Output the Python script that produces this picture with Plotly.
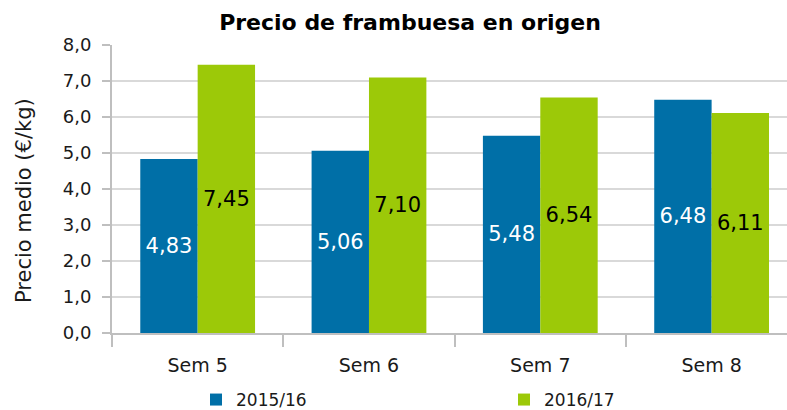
import plotly.graph_objects as go

categories = ["Sem 5", "Sem 6", "Sem 7", "Sem 8"]
series_2015 = [4.83, 5.06, 5.48, 6.48]
series_2016 = [7.45, 7.10, 6.54, 6.11]
y_ticks = [0, 1, 2, 3, 4, 5, 6, 7, 8]

FONT = "DejaVu Sans"
BLUE = "#006FA7"
GREEN = "#9CC908"
TXT = "#1a1a1a"

fig = go.Figure()
fig.add_trace(go.Bar(
    x=categories, y=series_2015, name="2015/16", legend="legend",
    marker=dict(color=BLUE, line=dict(width=0)),
    texttemplate="%{y:.2f}", textposition="inside", insidetextanchor="middle",
    textfont=dict(color="white", size=21, family=FONT),
))
fig.add_trace(go.Bar(
    x=categories, y=series_2016, name="2016/17", legend="legend2",
    marker=dict(color=GREEN, line=dict(width=0)),
    texttemplate="%{y:.2f}", textposition="inside", insidetextanchor="middle",
    textfont=dict(color="black", size=21, family=FONT),
))

leg_common = dict(font=dict(size=17, family=FONT, color=TXT), yanchor="middle",
                  xanchor="left", xref="container", yref="container",
                  bgcolor="rgba(0,0,0,0)", borderwidth=0)

fig.update_layout(
    width=787, height=410,
    margin=dict(l=112, r=0, t=45, b=77, autoexpand=False),
    paper_bgcolor="white", plot_bgcolor="white",
    separators=",.",
    barmode="group", bargap=0.33, bargroupgap=0,
    uniformtext=dict(mode=False),
    font=dict(family=FONT, color=TXT),
    title=dict(text="<b>Precio de frambuesa en origen</b>", x=0.521, xanchor="center",
               y=0.946, yanchor="middle", font=dict(size=22, family=FONT, color="black")),
    showlegend=True,
    legend=dict(x=196 / 787, y=1 - 400 / 410, **leg_common),
    legend2=dict(x=504 / 787, y=1 - 400 / 410, **leg_common),
    xaxis=dict(
        type="category", range=[-0.5, 3.44], automargin=False,
        tickson="boundaries", ticks="outside", ticklen=12, tickcolor="#BFBFBF", tickwidth=2,
        showline=True, linecolor="#BFBFBF", linewidth=2,
        tickfont=dict(size=19, family=FONT, color=TXT), ticklabelstandoff=14,
        showgrid=False,
    ),
    yaxis=dict(
        range=[0, 8], tickvals=y_ticks, tickformat=".1f", automargin=False,
        ticks="outside", ticklen=8, tickcolor="#BFBFBF", tickwidth=2,
        showline=True, linecolor="#BFBFBF", linewidth=2,
        gridcolor="#D9D9D9", gridwidth=2, zeroline=False,
        tickfont=dict(size=18, family=FONT, color=TXT), ticklabelstandoff=7,
    ),
    annotations=[dict(
        text="Precio medio (€/kg)", xref="paper", yref="paper",
        x=(24 - 112) / 675, y=(333 - 201) / 288, xanchor="center", yanchor="middle",
        textangle=-90, showarrow=False,
        font=dict(size=21, family=FONT, color=TXT),
    )],
)

fig.write_html("out.html", config={"displayModeBar": False},
               post_script="document.body.style.margin='0';")
